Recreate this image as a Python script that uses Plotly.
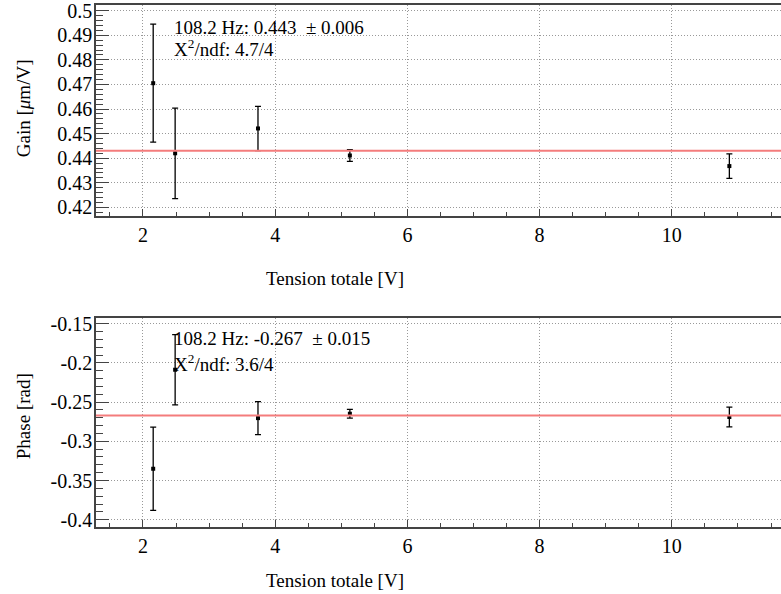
import plotly.graph_objects as go
from plotly.subplots import make_subplots

tension = [2.155, 2.487, 3.74, 5.13, 10.87]
gain = [0.4705, 0.4420, 0.4521, 0.4411, 0.4368]
gain_err = [0.0240, 0.0184, 0.0090, 0.0024, 0.0050]
phase = [-0.335, -0.2087, -0.2704, -0.2648, -0.2690]
phase_err = [0.053, 0.0447, 0.021, 0.0055, 0.0125]
gain_fit = 0.443
phase_fit = -0.267
gain_ticks = [0.42, 0.43, 0.44, 0.45, 0.46, 0.47, 0.48, 0.49, 0.5]
gain_ticktext = ["0.42", "0.43", "0.44", "0.45", "0.46", "0.47", "0.48", "0.49", "0.5"]
phase_ticks = [-0.4, -0.35, -0.3, -0.25, -0.2, -0.15]
phase_ticktext = ["-0.4", "-0.35", "-0.3", "-0.25", "-0.2", "-0.15"]
gain_label = ["108.2 Hz: 0.443\u00a0\u00a0± 0.006", "X<sup>2</sup>/ndf: 4.7/4"]
phase_label = ["108.2 Hz: -0.267\u00a0\u00a0± 0.015", "X<sup>2</sup>/ndf: 3.6/4"]
x_title = "Tension totale [V]"
gain_title = "Gain [<i>μ</i>m/V]"
phase_title = "Phase [rad]"

FONT = "Liberation Serif"
W, H = 790, 594
L, R, T, B = 96, 0, 5, 67
PH = H - T - B
PW = W - L - R

def py(pix):
    return (H - B - pix) / PH

def px(pix):
    return (pix - L) / PW

fig = make_subplots(rows=2, cols=1, vertical_spacing=0.1)

for row, yv, ye, fit in [(1, gain, gain_err, gain_fit), (2, phase, phase_err, phase_fit)]:
    fig.add_trace(go.Scatter(
        x=tension, y=yv, mode="markers",
        marker=dict(symbol="square", size=4, color="black"),
        error_y=dict(type="data", array=ye, visible=True, color="black", thickness=1.3, width=3),
        showlegend=False), row=row, col=1)
    fig.add_hline(y=fit, line=dict(color="#f47c7c", width=2), row=row, col=1)

axis_common = dict(
    showline=True, linecolor="#444", linewidth=1.5, mirror=True,
    ticks="inside", tickcolor="#444", tickwidth=1.2,
    showgrid=True, gridcolor="#999999", griddash="1px,2px", gridwidth=1,
    zeroline=False, ticklabeloverflow="allow",
    tickfont=dict(family=FONT, size=20, color="black"),
)

fig.update_xaxes(**axis_common, range=[1.29, 11.757], dtick=2, tick0=0, ticklen=7,
                 minor=dict(dtick=0.5, ticks="inside", ticklen=4, tickcolor="#444", showgrid=False),
                 ticklabelstandoff=0)
fig.update_yaxes(**axis_common, ticklen=13, ticklabelstandoff=-2)
fig.update_yaxes(range=[0.4165, 0.5023], tickmode="array", tickvals=gain_ticks, ticktext=gain_ticktext,
                 minor=dict(dtick=0.002, tick0=0, ticks="inside", ticklen=7, tickcolor="#444", showgrid=False),
                 row=1, col=1)
fig.update_yaxes(range=[-0.4093, -0.1427], tickmode="array", tickvals=phase_ticks, ticktext=phase_ticktext,
                 minor=dict(dtick=0.01, tick0=0, ticks="inside", ticklen=7, tickcolor="#444", showgrid=False),
                 row=2, col=1)

fig.update_layout(
    xaxis=dict(domain=[0, 1]), xaxis2=dict(domain=[0, 1]),
    yaxis=dict(domain=[py(216), 1.0]),
    yaxis2=dict(domain=[0.0, py(318)]),
)

ann = []
tf = dict(family=FONT, size=19, color="black")
for yc in [278, 580]:
    ann.append(dict(text=x_title, x=px(336), y=py(yc), xref="paper", yref="paper",
                    xanchor="center", yanchor="middle", showarrow=False, font=tf))
ann.append(dict(text=gain_title, x=px(23), y=py(108), xref="paper", yref="paper", textangle=-90,
                xanchor="center", yanchor="middle", showarrow=False, font=tf))
ann.append(dict(text=phase_title, x=px(23), y=py(416), xref="paper", yref="paper", textangle=-90,
                xanchor="center", yanchor="middle", showarrow=False, font=tf))
for labels, ys in [(gain_label, [27, 48]), (phase_label, [338, 363])]:
    for t, yc in zip(labels, ys):
        ann.append(dict(text=t, x=px(172), y=py(yc), xref="paper", yref="paper",
                        xanchor="left", yanchor="middle", showarrow=False, font=tf))

fig.update_layout(
    width=W, height=H, margin=dict(l=L, r=R, t=T, b=B),
    paper_bgcolor="white", plot_bgcolor="white",
    font=dict(family=FONT, size=19, color="black"),
    annotations=ann,
)

fig.write_html("out.html", config={"displayModeBar": False},
               post_script="document.body.style.margin='0px';document.body.style.overflow='hidden';")
